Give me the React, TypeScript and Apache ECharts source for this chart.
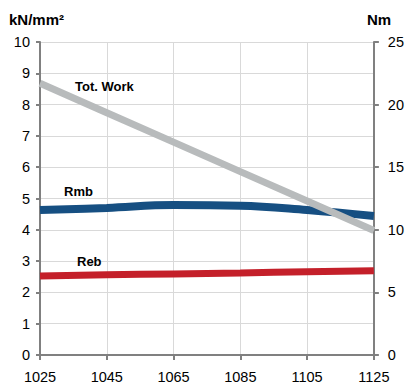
import React, { useEffect, useRef } from "react";
import * as echarts from "echarts";

const xValues = [1025, 1045, 1065, 1085, 1105, 1125];
const rmb = [4.63, 4.7, 4.79, 4.77, 4.63, 4.44];
const reb = [2.52, 2.56, 2.59, 2.62, 2.66, 2.69];
const totWork = [21.7, 19.35, 17.0, 14.65, 12.3, 9.95];
const leftAxisTitle = "kN/mm²";
const rightAxisTitle = "Nm";
const seriesNames = ["Reb", "Rmb", "Tot. Work"];

const FONT = "Liberation Sans, Arial, sans-serif";

export default function App() {
  const ref = useRef<HTMLDivElement>(null);
  useEffect(() => {
    if (!ref.current) return;
    const chart = echarts.init(ref.current, undefined, { renderer: "svg" });
    const pair = (vals: number[]) => xValues.map((x, i) => [x, vals[i]]);
    const axisLine = { show: true, lineStyle: { color: "#808080", width: 2 } };
    chart.setOption({
      animation: false,
      backgroundColor: "#ffffff",
      grid: { left: 40, right: 30, top: 42, bottom: 29, containLabel: false },
      xAxis: {
        type: "value",
        min: 1025,
        max: 1125,
        interval: 20,
        axisLine,
        axisTick: { show: true, length: 5, lineStyle: { color: "#808080", width: 2 } },
        axisLabel: {
          fontSize: 14.5,
          color: "#000",
          fontFamily: FONT,
          margin: 14,
          formatter: (v: number) => String(v),
        },
        splitLine: { show: true, lineStyle: { color: "#d9d9d9", width: 1 } },
      },
      yAxis: [
        {
          type: "value",
          min: 0,
          max: 10,
          interval: 1,
          axisLine,
          axisTick: { show: true, length: 4, lineStyle: { color: "#808080", width: 2 } },
          axisLabel: { fontSize: 14.5, color: "#000", fontFamily: FONT, margin: 10 },
          splitLine: { show: true, lineStyle: { color: "#d9d9d9", width: 1 } },
        },
        {
          type: "value",
          position: "right",
          min: 0,
          max: 25,
          interval: 5,
          axisLine,
          axisTick: { show: true, length: 5, lineStyle: { color: "#808080", width: 2 } },
          axisLabel: { fontSize: 14.5, color: "#000", fontFamily: FONT, margin: 14 },
          splitLine: { show: false },
        },
      ],
      series: [
        {
          name: seriesNames[0],
          type: "line",
          yAxisIndex: 0,
          data: pair(reb),
          showSymbol: false,
          smooth: true,
          lineStyle: { color: "#c4202a", width: 7 },
        },
        {
          name: seriesNames[1],
          type: "line",
          yAxisIndex: 0,
          data: pair(rmb),
          showSymbol: false,
          smooth: 0.4,
          lineStyle: { color: "#164f82", width: 8 },
        },
        {
          name: seriesNames[2],
          type: "line",
          yAxisIndex: 1,
          data: pair(totWork),
          showSymbol: false,
          lineStyle: { color: "#b8bbbc", width: 7 },
        },
      ],
      graphic: [
        {
          type: "text",
          left: 9,
          top: 12,
          z: 100,
          style: { text: leftAxisTitle, font: `bold 15px ${FONT}`, fill: "#000" },
        },
        {
          type: "text",
          left: 367,
          top: 12,
          z: 100,
          style: { text: rightAxisTitle, font: `bold 15px ${FONT}`, fill: "#000" },
        },
        {
          type: "text",
          left: 75,
          top: 80,
          z: 100,
          style: { text: seriesNames[2], font: `bold 13px ${FONT}`, fill: "#000" },
        },
        {
          type: "text",
          left: 64,
          top: 185,
          z: 100,
          style: { text: seriesNames[1], font: `bold 13px ${FONT}`, fill: "#000" },
        },
        {
          type: "text",
          left: 77,
          top: 255,
          z: 100,
          style: { text: seriesNames[0], font: `bold 13px ${FONT}`, fill: "#000" },
        },
      ],
    });
    return () => chart.dispose();
  }, []);
  return (
    <div
      ref={ref}
      style={{ position: "fixed", left: 0, top: 0, width: 407, height: 384 }}
    />
  );
}
